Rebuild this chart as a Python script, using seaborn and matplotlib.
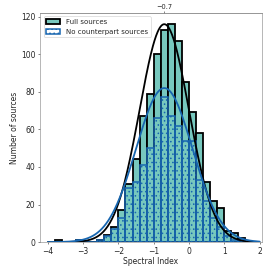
import numpy as np
import matplotlib
matplotlib.use("Agg")
import matplotlib.pyplot as plt
import seaborn as sns
from matplotlib.patches import Patch

# histogram bins (spectral index) and counts per bin
bin_edges = [-3.8, -3.6, -3.4, -3.2, -3.0, -2.8, -2.6, -2.4, -2.2, -2.0, -1.8, -1.6, -1.4,
             -1.2, -1.0, -0.8, -0.6, -0.4, -0.2, 0.0, 0.2, 0.4, 0.6, 0.8, 1.0, 1.2, 1.4, 1.6]
full_counts = [1, 0, 0, 1, 0, 0, 1, 4, 8, 17, 31, 44, 67,
               79, 100, 113, 116, 107, 85, 69, 58, 32, 22, 18, 6, 5, 2]
nocp_counts = [0, 0, 0, 1, 0, 0, 1, 3, 7, 13, 29, 32, 41,
               50, 66, 77, 67, 62, 54, 54, 33, 22, 13, 8, 3, 1, 1]

# gaussian fits: amplitude, mean, sigma
full_fit = (116, -0.7, 0.70)
nocp_fit = (82, -0.7, 0.80)
peak_label = -0.7

teal = "#77c8be"
blue = "#1766b0"

sns.set_style("ticks", {"axes.edgecolor": "0.5"})
plt.rcParams["hatch.linewidth"] = 1.2

centers = [(a + b) / 2 for a, b in zip(bin_edges[:-1], bin_edges[1:])]

fig, ax = plt.subplots(figsize=(5.38, 5.38), dpi=50)
fig.subplots_adjust(left=0.149, right=0.974, bottom=0.100, top=0.952)

sns.histplot(x=centers, weights=full_counts, bins=bin_edges, color=teal,
             edgecolor="black", linewidth=2.6, alpha=1, ax=ax)
sns.histplot(x=centers, weights=nocp_counts, bins=bin_edges, fill=False,
             edgecolor=blue, color=blue, linewidth=2.2, hatch="..", ax=ax)

xs = np.linspace(-4.0, 2.0, 400)
def gauss(x, a, m, s):
    return a * np.exp(-0.5 * ((x - m) / s) ** 2)

sns.lineplot(x=xs, y=gauss(xs, *full_fit), color="black", linewidth=2.6, ax=ax)
sns.lineplot(x=xs, y=gauss(xs, *nocp_fit), color=blue, linewidth=2.6, ax=ax)

ax.set_xlim(-4.22, 2.07)
ax.set_ylim(0, 122)
ax.set_xticks([-4, -3, -2, -1, 0, 1, 2])
ax.set_yticks([0, 20, 40, 60, 80, 100, 120])
ax.tick_params(labelsize=11)
ax.set_xlabel("Spectral Index", fontsize=11, labelpad=1)
ax.set_ylabel("Number of sources", fontsize=11, labelpad=2)

top = ax.secondary_xaxis("top")
top.set_xticks([peak_label])
top.set_xticklabels(["\u22120.7"])
top.tick_params(labelsize=9.5, pad=1)

handles = [Patch(facecolor=teal, edgecolor="black", linewidth=2.6, label="Full sources"),
           Patch(facecolor="none", edgecolor=blue, linewidth=2.2, hatch="..",
                 label="No counterpart sources")]
ax.legend(handles=handles, loc="upper left", fontsize=10, frameon=True)

fig.savefig("out.png", dpi=50)
